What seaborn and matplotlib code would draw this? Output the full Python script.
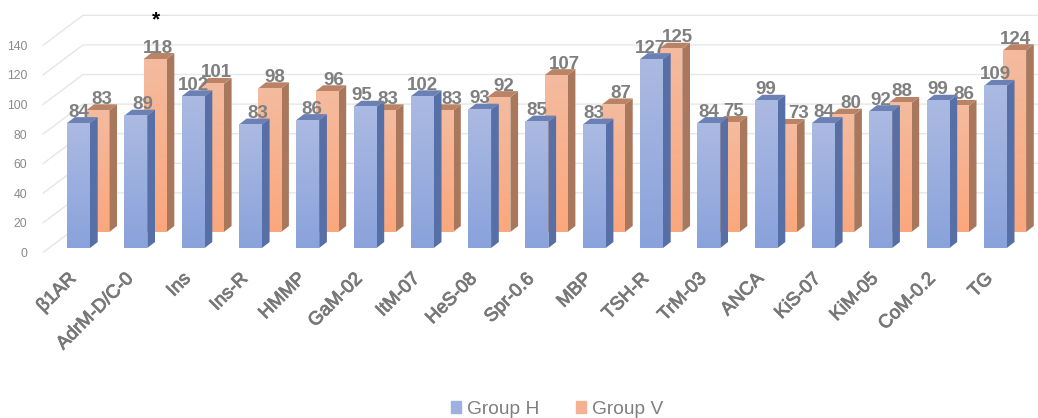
import numpy as np
import pandas as pd
import seaborn as sns
import matplotlib
matplotlib.use("Agg")
import matplotlib.pyplot as plt
import matplotlib.patheffects as pe
from matplotlib.patches import Patch
from matplotlib.transforms import ScaledTranslation

categories = ["β1AR", "AdrM-D/C-0", "Ins", "Ins-R", "HMMP", "GaM-02", "ItM-07", "HeS-08", "Spr-0.6",
              "MBP", "TSH-R", "TrM-03", "ANCA", "KiS-07", "KiM-05", "CoM-0.2", "TG"]
group_h = [84, 89, 102, 83, 86, 95, 102, 93, 85, 83, 127, 84, 99, 84, 92, 99, 109]
group_v = [83, 118, 101, 98, 96, 83, 83, 92, 107, 87, 125, 75, 73, 80, 88, 86, 124]
y_ticks = [0, 20, 40, 60, 80, 100, 120, 140]
# hand placement of the value labels, in pixels to the right of the bar centre
nudge_h = [0, 7, 0, 7, 4, -3, 0, 0, 0, 0, -1, 0, 0, 0, 0, 0, 0]
nudge_v = [4, 3, 4, 5, 7, 4, 10, 5, 8, 7, 7, 6, 13, 8, 2, 7, 1]

W, H = 1038, 418
sns.set_theme(style="white")
plt.rcParams["font.family"] = ["Liberation Sans", "DejaVu Sans"]
fig = plt.figure(figsize=(W / 100, H / 100), dpi=100)

L, R, T, B = 40, W, 0, 256   # axes rectangle in pixels
STEP = 57.3                  # px per category
BAR_W = 23 / STEP
DX, DY = 7.7, 6.0            # depth of a bar in px


def make_axes(x0_px, y0_px, scale):
    """Overlay axes whose category 0 is centred at x0_px and value 0 is at y0_px."""
    ax = fig.add_axes([L / W, 1 - B / H, (R - L) / W, (B - T) / H])
    ax.patch.set_alpha(0)
    lims = ((L - x0_px) / STEP, (R - x0_px) / STEP, (y0_px - B) / scale, (y0_px - T) / scale)
    return ax, lims, scale


def draw_group(ax, lims, scale, values, front, side, top):
    top_c, bot_c = front
    sns.barplot(x=categories, y=values, color=bot_c, saturation=1, width=BAR_W,
                errorbar=None, ax=ax, linewidth=0)
    c0 = np.array(matplotlib.colors.to_rgb(top_c))
    c1 = np.array(matplotlib.colors.to_rgb(bot_c))
    grad = np.linspace(0, 1, 64)[:, None, None] * (c1 - c0) + c0
    dx, dy = DX / STEP, DY / scale
    for p in list(ax.patches):
        x, w, h = p.get_x(), p.get_width(), p.get_height()
        ax.fill([x + w, x + w + dx, x + w + dx, x + w], [0, dy, h + dy, h], color=side, lw=0)
        ax.fill([x, x + w, x + w + dx, x + dx], [h, h, h + dy, h + dy], color=top, lw=0)
        ax.imshow(grad, extent=(x, x + w, 0, h), origin="upper", aspect="auto",
                  clip_path=p, zorder=3)
    ax.set_xlim(lims[0], lims[1])
    ax.set_ylim(lims[2], lims[3])
    ax.set_ylabel("")
    ax.set_yticks([])
    ax.grid(False)
    sns.despine(ax=ax, left=True, bottom=True)


# Base plane: tick labels, wall and side gridlines (x in pixels)
ax_g = fig.add_axes([L / W, 1 - B / H, (R - L) / W, (B - T) / H])
G_SCALE, G_Y0 = 1.48, 252.5
ax_g.set_xlim(L, R)
ax_g.set_ylim((G_Y0 - B) / G_SCALE, (G_Y0 - T) / G_SCALE)
wall = 30 / G_SCALE
for v in y_ticks:
    xs = [43, 83, R] if v else [43, 83]
    ys = [v, v + wall, v + wall] if v else [v, v + wall]
    ax_g.plot(xs, ys, color="#e6e6e6", lw=1, solid_joinstyle="miter")
ax_g.set_xticks([])
ax_g.set_yticks(y_ticks)
ax_g.tick_params(axis="y", length=0, pad=9, labelsize=8.8, labelcolor="#8a8a8a")
sns.despine(ax=ax_g, left=True, bottom=True)

# Orange (rear row)
ax_v, lims_v, sc_v = make_axes(78.5 + 19.3, 232, 1.466)
draw_group(ax_v, lims_v, sc_v, group_v, ("#f4bb9f", "#fba77c"), "#a8775c", "#bb8365")
ax_v.set_xticks([])

# Blue (front row)
ax_h, lims_h, sc_h = make_axes(78.5, 248, 1.487)
draw_group(ax_h, lims_h, sc_h, group_h, ("#abbae2", "#8aa2db"), "#566fa6", "#6b80b4")
ax_h.set_xticks(range(len(categories)))
ax_h.set_xticklabels(categories, rotation=45, ha="right", rotation_mode="anchor",
                     fontsize=13.5, color="#787878")
ax_h.tick_params(axis="x", length=0, pad=16)
shift = ScaledTranslation(-11 / 100, 8 / 100, fig.dpi_scale_trans)
for t in ax_h.get_xticklabels():
    t.set_transform(t.get_transform() + shift)
    t.set_path_effects([pe.withStroke(linewidth=0.6, foreground="#787878")])

# Value labels on top of everything
LBL = dict(fontsize=13.5, fontweight="bold", color="#7f7f7f", ha="center", va="baseline",
           annotation_clip=False, zorder=20, textcoords="offset points")
PT = 72 / 100
for i, v in enumerate(group_v):
    ax_h.annotate(str(v), xy=(i, v), xycoords=ax_v.transData,
                  xytext=(nudge_v[i] * PT, 6.5 * PT), **LBL)
for i, v in enumerate(group_h):
    ax_h.annotate(str(v), xy=(i, v), xycoords=ax_h.transData,
                  xytext=(nudge_h[i] * PT, 6.5 * PT), **LBL)

fig.text(156 / W, 1 - 20 / H, "*", fontsize=15, fontweight="bold", color="black", ha="center", va="center")

fig.legend(handles=[Patch(color="#9db0e0", label="Group H"), Patch(color="#f6b195", label="Group V")],
           ncols=2, loc="lower center", bbox_to_anchor=(557 / W, 0.0), frameon=False, fontsize=13.8,
           labelcolor="#7f7f7f", handlelength=0.55, handleheight=0.6, handletextpad=0.3, columnspacing=1.9,
           borderaxespad=0, borderpad=0)

fig.savefig("out.png", dpi=100, facecolor="white")
